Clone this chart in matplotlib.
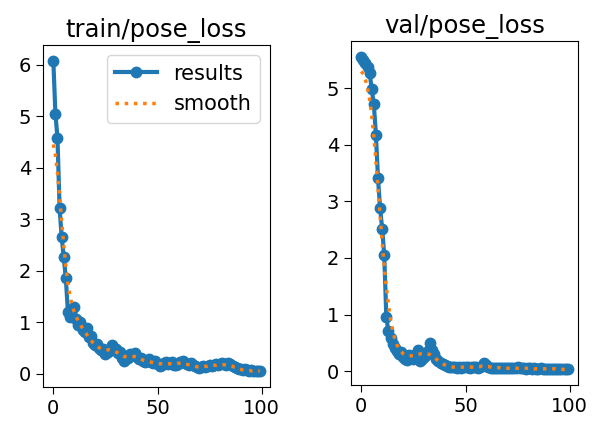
import matplotlib
matplotlib.use("Agg")
import matplotlib.pyplot as plt

# epochs 0..99
epochs = list(range(100))

train_results = [
    6.08, 5.05, 4.57, 3.22, 2.65, 2.27, 1.85, 1.20, 1.10, 1.25,
    1.30, 1.05, 0.95, 1.00, 0.85, 0.80, 0.88, 0.70, 0.72, 0.60,
    0.55, 0.58, 0.50, 0.45, 0.48, 0.38, 0.42, 0.45, 0.55, 0.50,
    0.47, 0.40, 0.42, 0.30, 0.25, 0.32, 0.30, 0.38, 0.35, 0.40,
    0.33, 0.28, 0.30, 0.25, 0.22, 0.25, 0.28, 0.22, 0.20, 0.25,
    0.18, 0.15, 0.16, 0.20, 0.22, 0.18, 0.20, 0.22, 0.17, 0.16,
    0.18, 0.23, 0.25, 0.20, 0.18, 0.16, 0.20, 0.17, 0.14, 0.12,
    0.10, 0.12, 0.14, 0.13, 0.15, 0.16, 0.14, 0.17, 0.18, 0.16,
    0.18, 0.20, 0.19, 0.17, 0.20, 0.18, 0.15, 0.12, 0.10, 0.08,
    0.09, 0.07, 0.08, 0.06, 0.05, 0.06, 0.05, 0.04, 0.05, 0.05,
]
train_smooth = [
    4.45, 4.25, 3.90, 3.45, 2.95, 2.50, 2.08, 1.75, 1.50, 1.33,
    1.20, 1.10, 1.02, 0.95, 0.88, 0.82, 0.76, 0.70, 0.65, 0.60,
    0.56, 0.53, 0.50, 0.48, 0.47, 0.46, 0.46, 0.46, 0.45, 0.44,
    0.42, 0.40, 0.37, 0.35, 0.33, 0.33, 0.33, 0.33, 0.33, 0.33,
    0.32, 0.30, 0.28, 0.26, 0.25, 0.24, 0.23, 0.22, 0.21, 0.20,
    0.19, 0.19, 0.19, 0.19, 0.19, 0.19, 0.19, 0.19, 0.19, 0.19,
    0.20, 0.20, 0.20, 0.19, 0.18, 0.17, 0.16, 0.15, 0.14, 0.13,
    0.13, 0.13, 0.13, 0.14, 0.14, 0.15, 0.15, 0.16, 0.16, 0.17,
    0.17, 0.17, 0.17, 0.17, 0.16, 0.15, 0.14, 0.12, 0.11, 0.09,
    0.08, 0.07, 0.07, 0.06, 0.06, 0.05, 0.05, 0.05, 0.05, 0.05,
]

val_results = [
    5.56, 5.50, 5.44, 5.38, 5.27, 4.98, 4.72, 4.18, 3.41, 2.88,
    2.52, 2.05, 0.95, 0.70, 0.58, 0.47, 0.40, 0.35, 0.30, 0.33,
    0.25, 0.22, 0.20, 0.28, 0.25, 0.22, 0.30, 0.38, 0.18, 0.22,
    0.25, 0.28, 0.35, 0.50, 0.38, 0.30, 0.22, 0.17, 0.14, 0.12,
    0.10, 0.09, 0.08, 0.08, 0.07, 0.07, 0.06, 0.07, 0.06, 0.07,
    0.08, 0.07, 0.06, 0.07, 0.07, 0.08, 0.06, 0.07, 0.09, 0.15,
    0.10, 0.07, 0.06, 0.06, 0.05, 0.06, 0.05, 0.06, 0.05, 0.05,
    0.06, 0.05, 0.05, 0.06, 0.05, 0.07, 0.06, 0.05, 0.05, 0.04,
    0.05, 0.05, 0.04, 0.05, 0.04, 0.04, 0.05, 0.04, 0.04, 0.04,
    0.03, 0.04, 0.04, 0.03, 0.04, 0.03, 0.03, 0.04, 0.03, 0.03,
]
val_smooth = [
    5.30, 5.25, 5.15, 5.00, 4.80, 4.52, 4.15, 3.72, 3.25, 2.75,
    2.28, 1.85, 1.48, 1.17, 0.92, 0.73, 0.58, 0.47, 0.40, 0.35,
    0.31, 0.29, 0.28, 0.27, 0.27, 0.27, 0.28, 0.29, 0.30, 0.31,
    0.31, 0.31, 0.30, 0.29, 0.27, 0.24, 0.21, 0.18, 0.15, 0.13,
    0.11, 0.10, 0.09, 0.08, 0.07, 0.07, 0.07, 0.07, 0.07, 0.07,
    0.07, 0.07, 0.07, 0.07, 0.07, 0.07, 0.08, 0.08, 0.09, 0.09,
    0.08, 0.08, 0.07, 0.06, 0.06, 0.06, 0.06, 0.05, 0.05, 0.05,
    0.05, 0.05, 0.05, 0.05, 0.05, 0.05, 0.05, 0.05, 0.05, 0.05,
    0.05, 0.05, 0.05, 0.04, 0.04, 0.04, 0.04, 0.04, 0.04, 0.04,
    0.04, 0.04, 0.04, 0.04, 0.03, 0.03, 0.03, 0.03, 0.03, 0.03,
]

fig = plt.figure(figsize=(5.92, 4.24), dpi=100)
ax1 = fig.add_axes([43 / 592, 1 - 387 / 424, 227 / 592, 342 / 424])
ax2 = fig.add_axes([351 / 592, 1 - 385 / 424, 227 / 592, 344 / 424])

panels = [
    (ax1, train_results, train_smooth, "train/pose_loss", range(0, 7)),
    (ax2, val_results, val_smooth, "val/pose_loss", range(0, 6)),
]
for ax, res, sm, title, yt in panels:
    ax.plot(epochs, res, marker=".", color="C0", linewidth=3, markersize=15, label="results")
    ax.plot(epochs, sm, ":", color="C1", linewidth=2.5, label="smooth")
    ax.set_title(title, fontsize=17.5)
    ax.set_xticks([0, 50, 100])
    ax.set_yticks(list(yt))
    ax.tick_params(labelsize=14, length=5)

ax1.legend(loc="upper right", fontsize=15)

fig.savefig("out.png", dpi=100)
